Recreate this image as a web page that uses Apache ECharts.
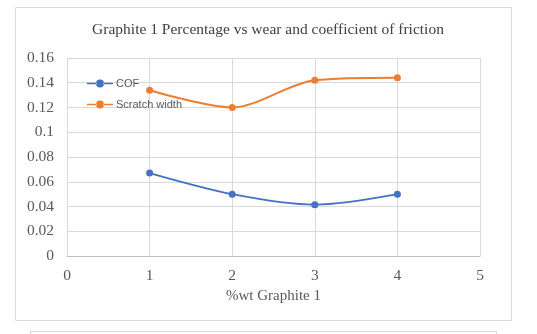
<!DOCTYPE html>
<html><head><meta charset="utf-8">
<script src="https://cdn.jsdelivr.net/npm/echarts@6/dist/echarts.min.js"></script>
<style>html,body{margin:0;padding:0;background:#fff}#c{width:537px;height:334px}</style>
</head><body><div id="c"></div>
<script>
const xValues = [1, 2, 3, 4];
const cof = [0.067, 0.050, 0.0415, 0.050];
const scratchWidth = [0.134, 0.120, 0.142, 0.144];
const seriesNames = ['COF', 'Scratch width'];
const titleText = 'Graphite 1 Percentage vs wear and coefficient of friction';
const xAxisName = '%wt Graphite 1';

const chart = echarts.init(document.getElementById('c'));
const serif = '"Liberation Serif", "DejaVu Serif", serif';
const legendIcon = 'path://M0,3.2L9.5,3.2L9.5,4.8L0,4.8Z M16.5,3.2L26,3.2L26,4.8L16.5,4.8Z M9,4A4,4 0 1,0 17,4A4,4 0 1,0 9,4Z';
chart.setOption({
  animation: false,
  graphic: [
    {type: 'rect', shape: {x: 15.5, y: 7.5, width: 496, height: 313}, style: {fill: 'none', stroke: '#d9d9d9', lineWidth: 1}},
    {type: 'line', shape: {x1: 30, y1: 331.5, x2: 497, y2: 331.5}, style: {stroke: '#d9d9d9', lineWidth: 1}},
    {type: 'line', shape: {x1: 30.5, y1: 331, x2: 30.5, y2: 334}, style: {stroke: '#d9d9d9', lineWidth: 1}},
    {type: 'line', shape: {x1: 496.5, y1: 331, x2: 496.5, y2: 334}, style: {stroke: '#d9d9d9', lineWidth: 1}}
  ],
  title: {
    text: titleText, left: 263, top: 17, textAlign: 'center',
    textStyle: {fontFamily: serif, fontSize: 15.5, fontWeight: 'normal', color: '#404040'}
  },
  legend: {
    orient: 'vertical', left: 82, top: 73, itemGap: 10,
    itemWidth: 26, itemHeight: 13,
    textStyle: {fontFamily: '"Liberation Sans", Arial, sans-serif', fontSize: 11, color: '#595959', padding: [0,0,0,-2]},
    data: seriesNames.map(n => ({name: n, icon: legendIcon}))
  },
  grid: {left: 67, right: 57, top: 58, bottom: 78, containLabel: false},
  xAxis: {
    type: 'value', min: 0, max: 5, interval: 1,
    name: xAxisName, nameLocation: 'middle', nameGap: 33,
    nameTextStyle: {fontFamily: serif, fontSize: 15, color: '#595959'},
    axisLine: {show: true, lineStyle: {color: '#bfbfbf'}},
    axisTick: {show: false},
    axisLabel: {fontFamily: serif, fontSize: 15.5, color: '#595959', margin: 12},
    splitLine: {show: true, lineStyle: {color: '#d9d9d9'}}
  },
  yAxis: {
    type: 'value', min: 0, max: 0.16, interval: 0.02,
    axisLine: {show: false}, axisTick: {show: false},
    axisLabel: {fontFamily: serif, fontSize: 15.5, color: '#595959', margin: 13},
    splitLine: {show: true, lineStyle: {color: '#d9d9d9'}}
  },
  series: [
    {name: seriesNames[0], type: 'line', smooth: 0.3, symbol: 'circle', symbolSize: 7,
     data: xValues.map((x, i) => [x, cof[i]]),
     itemStyle: {color: '#4472c4'}, lineStyle: {color: '#4472c4', width: 2}},
    {name: seriesNames[1], type: 'line', smooth: 0.3, symbol: 'circle', symbolSize: 7,
     data: xValues.map((x, i) => [x, scratchWidth[i]]),
     itemStyle: {color: '#ed7d31'}, lineStyle: {color: '#ed7d31', width: 2}}
  ]
});
</script></body></html>
